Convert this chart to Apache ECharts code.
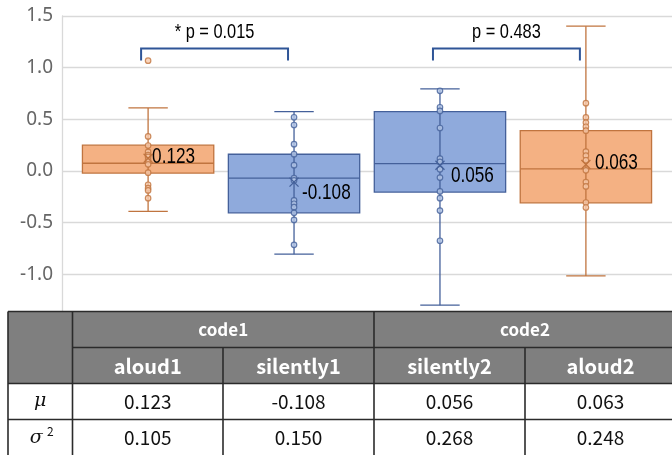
<!DOCTYPE html>
<html>
<head>
<meta charset="utf-8">
<script src="https://cdn.jsdelivr.net/npm/echarts@6/dist/echarts.min.js"></script>
<style>
  html, body { margin: 0; padding: 0; background: #fff; }
  #chart { width: 672px; height: 455px; }
</style>
</head>
<body>
<div id="chart"></div>
<script>
const groups = ['aloud1', 'silently1', 'silently2', 'aloud2'];
const codes = ['code1', 'code2'];
// min, Q1, median, Q3, max
const boxStats = [
  [-0.39, -0.02, 0.075, 0.25, 0.61],
  [-0.805, -0.405, -0.068, 0.162, 0.575],
  [-1.298, -0.204, 0.072, 0.575, 0.795],
  [-1.015, -0.308, 0.02, 0.39, 1.402]
];
const aloud1Points = [1.068, 0.335, 0.247, 0.185, 0.153, 0.136, 0.104, 0.065, -0.016, -0.133, -0.166, -0.188, -0.263];
const silently1Points = [0.52, 0.445, 0.26, 0.163, 0.056, -0.068, -0.091, -0.285, -0.317, -0.35, -0.405, -0.473, -0.714];
const silently2Points = [0.776, 0.617, 0.581, 0.416, 0.119, 0.088, 0.017, -0.064, -0.198, -0.263, -0.383, -0.675];
const aloud2Points = [0.656, 0.518, 0.469, 0.428, 0.39, 0.187, 0.148, 0.104, 0.007, -0.107, -0.149, -0.305, -0.353];
const means = [0.123, -0.108, 0.056, 0.063];
const variances = [0.105, 0.150, 0.268, 0.248];
const comparisons = [[0, 1, '* p = 0.015'], [2, 3, 'p = 0.483']];
const yMin = -1.5, yMax = 1.5, yStep = 0.5;

const allPoints = [aloud1Points, silently1Points, silently2Points, aloud2Points];

const orange = { fill: '#F4B183', line: '#C0743F', point: '#F8CBAD' };
const blue = { fill: '#8FAADC', line: '#44609A', point: '#B4C7E7' };
const palette = [orange, blue, blue, orange];
// label offsets (px) of the mean labels, right of the x marker
const labelOffsets = [[4, -1], [8, 11], [11, 11], [9, -2]];
// Arial Narrow look: Liberation Sans squeezed horizontally
const narrow = "'Liberation Sans', Arial, sans-serif";
const squeeze = 0.78;
const jp = "'Noto Sans CJK JP', 'Noto Sans', sans-serif";

function renderBox(params, api) {
  const x = api.value(0);
  const s = palette[params.dataIndex];
  const w = api.size([0.9, 0])[0];
  const cap = api.size([0.27, 0])[0];
  const pMin = api.coord([x, api.value(1)]);
  const pQ1 = api.coord([x, api.value(2)]);
  const pMed = api.coord([x, api.value(3)]);
  const pQ3 = api.coord([x, api.value(4)]);
  const pMax = api.coord([x, api.value(5)]);
  const ls = { stroke: s.line, lineWidth: 1.3 };
  return {
    type: 'group',
    children: [
      { type: 'rect', shape: { x: pQ1[0] - w / 2, y: pQ3[1], width: w, height: pQ1[1] - pQ3[1] },
        style: { fill: s.fill, stroke: s.line, lineWidth: 1.3 } },
      { type: 'line', shape: { x1: pMin[0], y1: pMin[1], x2: pMax[0], y2: pMax[1] }, style: ls },
      { type: 'line', shape: { x1: pMin[0] - cap / 2, y1: pMin[1], x2: pMin[0] + cap / 2, y2: pMin[1] }, style: ls },
      { type: 'line', shape: { x1: pMax[0] - cap / 2, y1: pMax[1], x2: pMax[0] + cap / 2, y2: pMax[1] }, style: ls },
      { type: 'line', shape: { x1: pMed[0] - w / 2, y1: pMed[1], x2: pMed[0] + w / 2, y2: pMed[1] }, style: ls }
    ]
  };
}

function renderMean(params, api) {
  const i = params.dataIndex;
  const p = api.coord([api.value(0), api.value(1)]);
  const s = palette[i];
  const r = 4.5;
  const off = labelOffsets[i];
  return {
    type: 'group',
    children: [
      { type: 'line', shape: { x1: p[0] - r, y1: p[1] - r, x2: p[0] + r, y2: p[1] + r }, style: { stroke: s.line, lineWidth: 1.3 } },
      { type: 'line', shape: { x1: p[0] - r, y1: p[1] + r, x2: p[0] + r, y2: p[1] - r }, style: { stroke: s.line, lineWidth: 1.3 } },
      { type: 'text', x: p[0] + off[0], y: p[1] + off[1], scaleX: squeeze,
        style: { text: means[i].toFixed(3), fill: '#000', font: '22px ' + narrow, align: 'left', verticalAlign: 'middle' } }
    ]
  };
}

function renderBracket(params, api) {
  const a = api.coord([api.value(0), 1.185]);
  const b = api.coord([api.value(1), 1.185]);
  const x1 = a[0] - 7, x2 = b[0] - 6, y = a[1];
  return {
    type: 'group',
    children: [
      { type: 'polyline', shape: { points: [[x1, y + 12], [x1, y], [x2, y], [x2, y + 12]] },
        style: { stroke: '#2F5597', lineWidth: 2, fill: null } },
      { type: 'text', x: (x1 + x2) / 2, y: y - 16, scaleX: squeeze,
        style: { text: comparisons[params.dataIndex][2], fill: '#000', font: '21px ' + narrow, align: 'center', verticalAlign: 'middle' } }
    ]
  };
}

// table under the chart
const colX = [8, 72.5, 223, 374, 525, 676];
const rowY = [311.5, 347.5, 383.5, 419.5, 455.5];
const border = { stroke: '#2b2b2b', lineWidth: 1.6 };
const table = [];
table.push({ type: 'rect', shape: { x: colX[0], y: rowY[0], width: colX[5] - colX[0], height: rowY[2] - rowY[0] }, style: { fill: '#7F7F7F' } });
table.push({ type: 'rect', shape: { x: colX[0], y: rowY[2], width: colX[5] - colX[0], height: rowY[4] - rowY[2] }, style: { fill: '#fff' } });
table.push({ type: 'rect', shape: { x: 0, y: rowY[0], width: colX[0], height: 455 - rowY[0] }, style: { fill: '#fff' } });
[[colX[0], rowY[0], colX[5], rowY[0]], [colX[1], rowY[1], colX[5], rowY[1]],
 [colX[0], rowY[2], colX[5], rowY[2]], [colX[0], rowY[3], colX[5], rowY[3]],
 [colX[0], rowY[0], colX[0], rowY[4]], [colX[1], rowY[0], colX[1], rowY[4]],
 [colX[3], rowY[0], colX[3], rowY[4]], [colX[2], rowY[1], colX[2], rowY[4]],
 [colX[4], rowY[1], colX[4], rowY[4]]].forEach(l => {
  table.push({ type: 'line', shape: { x1: l[0], y1: l[1], x2: l[2], y2: l[3] }, style: border });
});
codes.forEach((c, k) => {
  table.push({ type: 'text', x: (colX[1 + 2 * k] + colX[3 + 2 * k]) / 2, y: (rowY[0] + rowY[1]) / 2,
    style: { text: c, fill: '#fff', font: 'bold 17px ' + jp, align: 'center', verticalAlign: 'middle' } });
});
groups.forEach((g, i) => {
  const cx = (colX[i + 1] + colX[i + 2]) / 2;
  table.push({ type: 'text', x: cx, y: (rowY[1] + rowY[2]) / 2 + 1,
    style: { text: g, fill: '#fff', font: 'bold 20px ' + jp, align: 'center', verticalAlign: 'middle' } });
  table.push({ type: 'text', x: cx, y: (rowY[2] + rowY[3]) / 2,
    style: { text: means[i].toFixed(3), fill: '#111', font: '19px ' + jp, align: 'center', verticalAlign: 'middle' } });
  table.push({ type: 'text', x: cx, y: (rowY[3] + rowY[4]) / 2,
    style: { text: variances[i].toFixed(3), fill: '#111', font: '19px ' + jp, align: 'center', verticalAlign: 'middle' } });
});
const lx = (colX[0] + colX[1]) / 2;
table.push({ type: 'text', x: lx, y: (rowY[2] + rowY[3]) / 2,
  style: { text: 'μ', fill: '#111', font: 'italic 19px "DejaVu Serif", serif', align: 'center', verticalAlign: 'middle' } });
table.push({ type: 'text', x: lx - 4, y: (rowY[3] + rowY[4]) / 2 + 1,
  style: { text: 'σ', fill: '#111', font: 'italic 19px "DejaVu Serif", serif', align: 'center', verticalAlign: 'middle' } });
table.push({ type: 'text', x: lx + 10, y: (rowY[3] + rowY[4]) / 2 - 6,
  style: { text: '2', fill: '#111', font: '12px ' + jp, align: 'center', verticalAlign: 'middle' } });
table.forEach(e => { e.z = 100; });

let myChart = echarts.init(document.getElementById('chart'));
myChart.setOption({
  animation: false,
  grid: { left: 62, right: 0, top: 16, bottom: 129 },
  xAxis: { type: 'value', min: 0.41, max: 4.59, show: false },
  yAxis: {
    type: 'value',
    min: yMin,
    max: yMax,
    interval: yStep,
    axisLine: { show: true, lineStyle: { color: '#d9d9d9', width: 1.3 } },
    axisTick: { show: false },
    splitLine: { lineStyle: { color: '#d9d9d9', width: 1.3 } },
    axisLabel: { color: '#666', fontSize: 19, fontFamily: 'Noto Sans', margin: 9, formatter: v => v.toFixed(1) }
  },
  graphic: table,
  series: [
    {
      type: 'custom',
      renderItem: renderBox,
      encode: { x: 0, y: [1, 2, 3, 4, 5] },
      data: boxStats.map((b, i) => [i + 1, ...b]),
      z: 2
    },
    ...allPoints.map((pts, i) => ({
      type: 'scatter',
      symbol: 'circle',
      symbolSize: 5.5,
      itemStyle: { color: palette[i].point, borderColor: palette[i].line, borderWidth: 1.2 },
      data: pts.map(v => [i + 1, v]),
      z: 3
    })),
    {
      type: 'custom',
      renderItem: renderMean,
      data: means.map((m, i) => [i + 1, m]),
      z: 4
    },
    {
      type: 'custom',
      renderItem: renderBracket,
      data: comparisons.map(c => [c[0] + 1, c[1] + 1]),
      z: 4
    }
  ]
});
</script>
</body>
</html>
